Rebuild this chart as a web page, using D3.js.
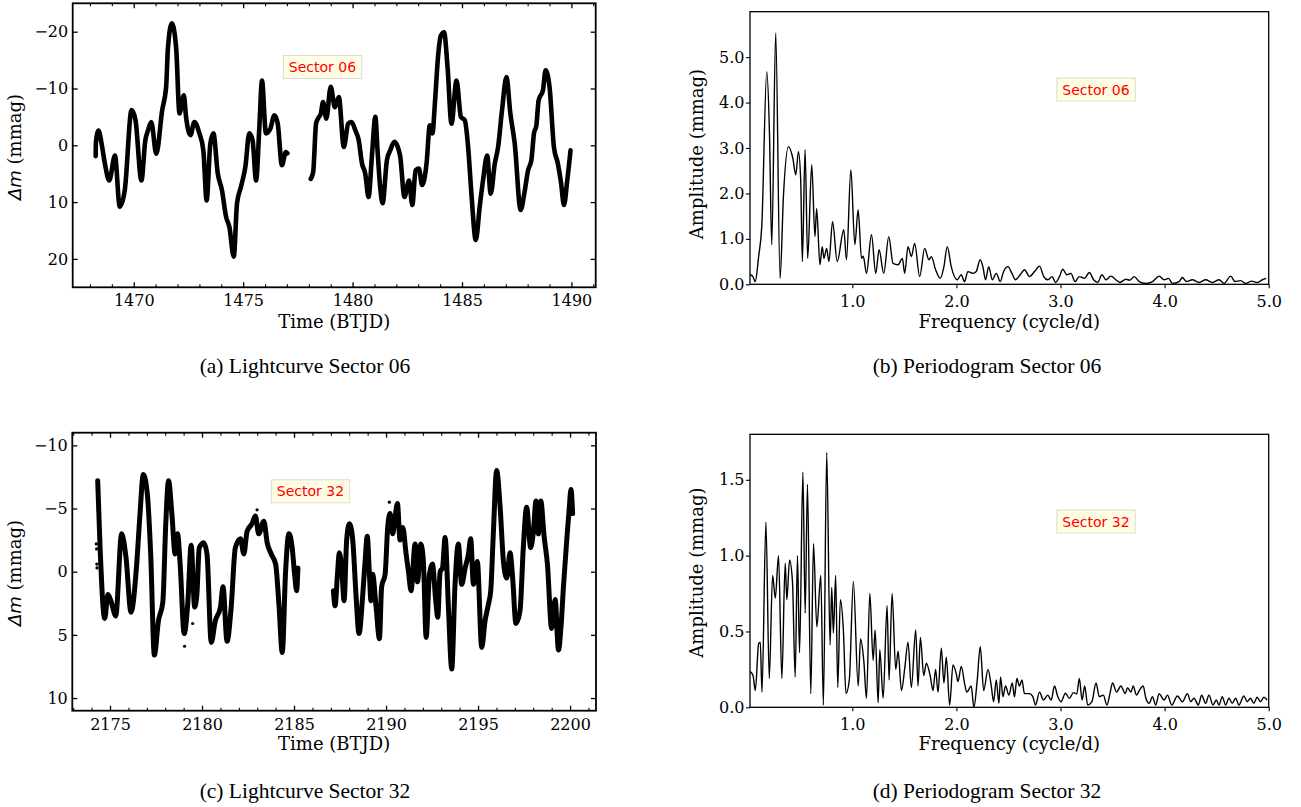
<!DOCTYPE html>
<html><head><meta charset="utf-8">
<script src="https://cdn.jsdelivr.net/npm/d3@7/dist/d3.min.js"></script>
<style>
html,body{margin:0;padding:0;background:#fff;}
svg{display:block;}
</style></head><body>
<svg id="fig" width="1301" height="807"></svg>
<script>
// ---------- Sector 06 light curve (BTJD, delta mag in mmag), two orbits ----------
const s06Orbit1 = [
  [1468.26,1.9],[1468.27,-0.5],[1468.39,-2.6],[1468.53,-0.3],[1468.68,3.2],[1468.88,6.2],
  [1469.14,1.8],[1469.36,10.8],[1469.59,7.9],[1469.9,-6.2],[1470.08,-4.4],[1470.35,6.2],
  [1470.53,-0.9],[1470.65,-2.6],[1470.8,-4.1],[1471.03,1.5],[1471.3,-6.2],[1471.48,-10.3],
  [1471.56,-17.0],[1471.74,-21.5],[1471.94,-17.0],[1472.09,-5.6],[1472.29,-8.8],[1472.39,-5.0],
  [1472.59,-1.8],[1472.77,-4.1],[1473.0,-2.1],[1473.18,0.9],[1473.33,9.7],[1473.5,-0.3],
  [1473.64,-2.1],[1473.84,5.0],[1474.03,7.9],[1474.22,12.6],[1474.37,14.4],[1474.57,19.6],
  [1474.72,10.2],[1474.9,7.3],[1475.1,3.8],[1475.28,-2.1],[1475.43,-0.9],[1475.59,6.2],
  [1475.74,-3.2],[1475.86,-11.4],[1476.04,-2.1],[1476.24,-2.9],[1476.43,-5.3],[1476.58,-3.8],
  [1476.77,3.5],[1476.95,1.2],[1477.02,1.4]
];
const s06Orbit2 = [
  [1478.09,5.9],[1478.2,4.7],[1478.33,-3.8],[1478.42,-4.7],[1478.55,-5.6],[1478.65,-7.6],
  [1478.8,-4.7],[1479.0,-10.3],[1479.19,-6.7],[1479.37,-8.5],[1479.6,0.3],[1479.8,-3.8],
  [1479.95,-4.1],[1480.13,-2.6],[1480.28,-0.9],[1480.43,3.2],[1480.58,5.0],[1480.73,9.1],
  [1480.89,1.5],[1481.04,-5.0],[1481.14,0.9],[1481.26,7.3],[1481.37,10.2],[1481.57,2.6],
  [1481.72,0.9],[1481.91,-0.6],[1482.17,1.8],[1482.37,9.1],[1482.58,6.2],[1482.73,10.5],
  [1482.88,4.4],[1483.03,4.1],[1483.18,7.0],[1483.38,3.2],[1483.53,-3.5],[1483.65,-2.1],
  [1483.76,-7.3],[1483.91,-15.8],[1484.03,-19.3],[1484.18,-19.9],[1484.34,-13.8],[1484.52,-3.8],
  [1484.75,-11.4],[1484.95,-5.0],[1485.13,-4.4],[1485.28,0.3],[1485.43,8.5],[1485.63,16.7],
  [1485.81,10.8],[1485.96,6.2],[1486.15,1.8],[1486.31,8.5],[1486.5,3.2],[1486.65,0.3],
  [1486.83,-6.2],[1487.03,-12.0],[1487.21,-5.6],[1487.41,-0.3],[1487.68,11.4],[1487.86,8.2],
  [1488.02,4.4],[1488.17,2.6],[1488.29,-2.1],[1488.4,-3.5],[1488.5,-7.9],[1488.7,-9.7],
  [1488.82,-13.2],[1489.0,-10.3],[1489.2,0.3],[1489.38,3.2],[1489.53,6.7],[1489.66,10.5],
  [1489.81,6.2],[1489.96,0.9]
];

// ---------- Sector 32 light curve, two orbits plus isolated points ----------
const s32Orbit1 = [
  [2174.33,-7.2],[2174.46,-1.9],[2174.71,3.7],[2174.89,1.8],[2175.07,2.4],[2175.31,3.5],
  [2175.63,-3.0],[2175.87,-1.1],[2176.14,3.2],[2176.45,-0.6],[2176.63,-4.6],[2176.81,-7.7],
  [2177.03,-6.1],[2177.21,-1.4],[2177.41,6.6],[2177.63,3.9],[2177.87,2.4],[2178.03,-3.8],
  [2178.18,-7.2],[2178.36,-4.6],[2178.54,-1.4],[2178.67,-3.0],[2178.81,-0.6],[2179.03,4.9],
  [2179.23,2.4],[2179.41,-2.1],[2179.6,2.8],[2179.72,1.8],[2179.85,-1.9],[2180.09,-2.3],
  [2180.27,-1.4],[2180.5,5.6],[2180.72,3.9],[2181.0,2.8],[2181.14,1.2],[2181.36,5.5],
  [2181.58,2.9],[2181.81,-1.9],[2182.09,-2.6],[2182.27,-1.4],[2182.45,-3.2],[2182.72,-3.8],
  [2182.9,-4.4],[2183.08,-3.0],[2183.36,-4.0],[2183.54,-2.3],[2183.76,-1.4],[2184.0,-0.6],
  [2184.18,2.6],[2184.36,6.4],[2184.54,0.0],[2184.72,-3.0],[2184.9,-1.9],[2185.03,0.2],
  [2185.14,1.5],[2185.21,-0.3]
];
const s32Orbit2 = [
  [2187.14,1.5],[2187.23,2.7],[2187.36,0.2],[2187.46,-1.5],[2187.59,-0.3],[2187.72,2.3],
  [2187.86,-2.5],[2188.01,-3.8],[2188.19,-2.5],[2188.37,1.9],[2188.53,4.9],[2188.73,1.9],
  [2188.86,-0.8],[2188.98,-2.8],[2189.09,0.0],[2189.18,2.3],[2189.27,0.2],[2189.46,2.8],
  [2189.64,5.3],[2189.76,1.2],[2189.95,0.2],[2190.09,-3.5],[2190.22,-4.6],[2190.36,-3.0],
  [2190.49,-4.3],[2190.62,-5.4],[2190.76,-2.5],[2190.91,-3.5],[2191.09,-1.4],[2191.22,0.0],
  [2191.36,1.5],[2191.58,-2.2],[2191.71,0.8],[2191.89,-2.2],[2192.03,-0.8],[2192.18,5.2],
  [2192.36,0.2],[2192.52,-0.6],[2192.7,2.3],[2192.81,3.6],[2192.94,0.0],[2193.07,-0.3],
  [2193.21,-2.7],[2193.39,2.8],[2193.57,7.7],[2193.75,1.0],[2193.93,-2.2],[2194.11,1.0],
  [2194.3,-0.3],[2194.48,-1.4],[2194.6,-2.6],[2194.75,1.0],[2194.96,-0.8],[2195.2,6.0],
  [2195.38,3.9],[2195.56,2.6],[2195.69,1.5],[2195.83,-3.0],[2196.01,-8.0],[2196.2,-5.1],
  [2196.38,-0.8],[2196.56,0.5],[2196.74,-1.5],[2196.88,0.5],[2197.06,4.1],[2197.28,3.1],
  [2197.46,-1.9],[2197.64,-5.1],[2197.86,-1.9],[2198.01,-3.2],[2198.15,-5.6],[2198.28,-3.0],
  [2198.41,-5.6],[2198.59,-2.8],[2198.77,-0.6],[2199.0,4.5],[2199.19,2.2],[2199.37,6.2],
  [2199.51,4.3],[2199.64,1.2],[2199.82,-2.5],[2199.96,-5.1],[2200.05,-6.5],[2200.14,-4.6]
];
const s32Stray = [
  [2174.25,-2.2],[2174.27,-1.8],[2174.28,-0.6],[2174.29,-0.3],
  [2179.05,5.9],[2179.49,4.1],[2182.99,-4.9],[2190.18,-5.5]
];

// ---------- Amplitude spectra (frequency in cycle/d, amplitude in mmag) ----------
const s06Spectrum = [
  [0.02,0.21],[0.045,0.17],[0.067,0.06],[0.1,0.61],[0.13,1.27],[0.178,4.68],[0.204,3.33],
  [0.226,0.87],[0.264,5.53],[0.306,0.13],[0.338,1.93],[0.386,3.03],[0.428,2.78],[0.457,2.41],
  [0.482,2.92],[0.504,2.3],[0.52,0.5],[0.546,2.96],[0.571,0.57],[0.61,2.63],[0.641,1.05],
  [0.657,1.67],[0.689,0.43],[0.711,0.83],[0.727,0.57],[0.753,0.79],[0.775,0.5],[0.81,1.38],
  [0.855,0.5],[0.918,1.2],[0.944,0.54],[0.986,2.52],[1.024,0.87],[1.056,1.64],[1.088,0.57],
  [1.105,0.62],[1.136,0.24],[1.184,1.09],[1.225,0.24],[1.257,0.76],[1.302,0.24],[1.35,1.05],
  [1.391,0.46],[1.439,0.43],[1.481,0.57],[1.503,0.24],[1.535,0.83],[1.567,0.61],[1.599,0.9],
  [1.647,0.17],[1.695,0.79],[1.736,0.54],[1.759,0.61],[1.8,0.32],[1.845,0.13],[1.88,0.39],
  [1.912,0.83],[1.95,0.39],[2.008,0.1],[2.046,0.21],[2.078,0.06],[2.11,0.28],[2.158,0.24],
  [2.19,0.28],[2.228,0.54],[2.254,0.39],[2.28,0.1],[2.31,0.39],[2.345,0.1],[2.383,0.24],
  [2.421,0.06],[2.453,0.28],[2.495,0.39],[2.533,0.24],[2.568,0.1],[2.613,0.21],[2.654,0.32],
  [2.702,0.17],[2.75,0.28],[2.798,0.4],[2.839,0.17],[2.878,0.1],[2.92,0.17],[2.952,0.04],
  [2.99,0.17],[3.022,0.33],[3.06,0.21],[3.1,0.24],[3.14,0.06],[3.18,0.17],[3.23,0.13],
  [3.277,0.26],[3.318,0.1],[3.357,0.04],[3.398,0.21],[3.436,0.1],[3.484,0.18],[3.532,0.1],
  [3.57,0.04],[3.628,0.11],[3.665,0.09],[3.708,0.17],[3.756,0.06],[3.82,0.02],[3.884,0.06],
  [3.948,0.18],[3.995,0.1],[4.037,0.13],[4.075,0.02],[4.139,0.06],[4.171,0.15],[4.21,0.06],
  [4.267,0.1],[4.331,0.04],[4.395,0.1],[4.459,0.04],[4.523,0.1],[4.571,0.02],[4.635,0.18],
  [4.676,0.06],[4.731,0.08],[4.779,0.02],[4.836,0.07],[4.891,0.04],[4.939,0.1],[4.977,0.13]
];
const s32Spectrum = [
  [0.02,0.236],[0.046,0.21],[0.068,0.11],[0.1,0.42],[0.116,0.43],[0.132,0.1],[0.17,1.22],
  [0.202,0.19],[0.234,0.87],[0.26,0.72],[0.291,1.0],[0.323,0.19],[0.355,0.95],[0.371,0.71],
  [0.397,0.97],[0.425,0.83],[0.451,0.2],[0.473,1.0],[0.493,0.36],[0.525,1.55],[0.547,0.62],
  [0.569,1.47],[0.601,0.09],[0.627,1.08],[0.659,0.53],[0.697,0.87],[0.722,0.015],[0.754,1.68],
  [0.786,0.41],[0.802,0.79],[0.818,0.49],[0.84,0.87],[0.86,0.13],[0.885,0.71],[0.914,0.51],
  [0.939,0.09],[0.971,0.18],[1.01,0.83],[1.056,0.14],[1.079,0.45],[1.111,0.3],[1.136,0.06],
  [1.168,0.75],[1.2,0.31],[1.219,0.51],[1.248,0.03],[1.264,0.38],[1.296,0.06],[1.334,0.67],
  [1.353,0.18],[1.382,0.75],[1.417,0.25],[1.44,0.37],[1.472,0.11],[1.504,0.26],[1.535,0.43],
  [1.567,0.13],[1.609,0.51],[1.631,0.14],[1.654,0.46],[1.686,0.21],[1.711,0.29],[1.75,0.2],
  [1.775,0.11],[1.8,0.25],[1.823,0.1],[1.855,0.39],[1.88,0.16],[1.903,0.33],[1.935,0.015],
  [1.967,0.28],[1.999,0.22],[2.015,0.17],[2.047,0.27],[2.078,0.16],[2.1,0.1],[2.142,0.14],
  [2.168,0.0],[2.2,0.18],[2.229,0.4],[2.262,0.11],[2.303,0.25],[2.335,0.14],[2.357,0.037],
  [2.383,0.18],[2.408,0.026],[2.424,0.2],[2.447,0.07],[2.472,0.14],[2.504,0.08],[2.536,0.16],
  [2.558,0.07],[2.581,0.19],[2.606,0.14],[2.629,0.18],[2.654,0.09],[2.702,0.09],[2.734,0.07],
  [2.76,0.015],[2.798,0.1],[2.836,0.048],[2.878,0.08],[2.91,0.048],[2.942,0.14],[2.974,0.07],
  [3.005,0.037],[3.047,0.093],[3.085,0.059],[3.124,0.097],[3.156,0.088],[3.181,0.19],[3.207,0.048],
  [3.232,0.14],[3.261,0.015],[3.302,0.037],[3.341,0.16],[3.373,0.07],[3.411,0.08],[3.446,0.015],
  [3.475,0.09],[3.5,0.16],[3.539,0.1],[3.58,0.14],[3.622,0.09],[3.644,0.13],[3.676,0.1],
  [3.698,0.14],[3.73,0.08],[3.756,0.11],[3.794,0.14],[3.82,0.06],[3.852,0.026],[3.883,0.07],
  [3.915,0.015],[3.947,0.09],[3.995,0.048],[4.027,0.08],[4.069,0.015],[4.123,0.075],[4.171,0.037],
  [4.219,0.09],[4.251,0.037],[4.283,0.06],[4.324,0.015],[4.356,0.08],[4.394,0.026],[4.426,0.08],
  [4.465,0.015],[4.497,0.048],[4.522,0.015],[4.554,0.07],[4.586,0.015],[4.618,0.06],[4.65,0.026],
  [4.682,0.06],[4.714,0.015],[4.761,0.075],[4.793,0.037],[4.825,0.06],[4.857,0.026],[4.889,0.066],
  [4.921,0.037],[4.953,0.066],[4.985,0.048]
];

// ---------- Tick values ----------
const s06TimeTicks = [1470, 1475, 1480, 1485, 1490];
const s06TimeMinor = [1468,1469,1471,1472,1473,1474,1476,1477,1478,1479,1481,1482,1483,1484,1486,1487,1488,1489,1491];
const s06MagTicks = [-20, -10, 0, 10, 20];
const s32TimeTicks = [2175, 2180, 2185, 2190, 2195, 2200];
const s32TimeMinor = [2173,2174,2176,2177,2178,2179,2181,2182,2183,2184,2186,2187,2188,2189,2191,2192,2193,2194,2196,2197,2198,2199,2201];
const s32MagTicks = [-10, -5, 0, 5, 10];
const freqTicks = [1, 2, 3, 4, 5];
const s06AmpTicks = [0, 1, 2, 3, 4, 5];
const s32AmpTicks = [0, 0.5, 1.0, 1.5];

const svg = d3.select("#fig");
const SERIF = "'DejaVu Serif', 'Liberation Serif', serif";
const SANS = "'DejaVu Sans', sans-serif";
const CAPTION = "'Liberation Serif', 'Times New Roman', serif";

function styleAxis(g, sw) {
  g.select(".domain").remove();
  g.selectAll(".tick line").attr("stroke", "#000").attr("stroke-width", sw);
  g.selectAll(".tick text").attr("fill", "#000").style("font-family", SERIF).style("font-size", "16px");
}

function sectorTag(cx, cy, label) {
  const g = svg.append("g");
  const t = g.append("text").attr("x", cx).attr("y", cy).attr("dy", "0.36em")
    .attr("text-anchor", "middle").attr("fill", "#ff0000")
    .style("font-family", SANS).style("font-size", "14px").text(label);
  const bb = t.node().getBBox();
  g.insert("rect", "text").attr("x", bb.x - 5.5).attr("y", cy - 11.5)
    .attr("width", bb.width + 11).attr("height", 23)
    .attr("fill", "#fffde3").attr("stroke", "#dcdcd4").attr("stroke-width", 1);
}

function caption(cx, y, label) {
  svg.append("text").attr("x", cx).attr("y", y).attr("text-anchor", "middle")
    .style("font-family", CAPTION).style("font-size", "21.5px").attr("fill", "#000").text(label);
}

function drawLightcurve(p) {
  const x = d3.scaleLinear().domain(p.xDomain).range([p.l, p.r]);
  const y = d3.scaleLinear().domain(p.yDomain).range([p.t, p.b]);
  const g = svg.append("g");
  const line = d3.line().curve(d3.curveMonotoneX).x(d => x(d[0])).y(d => y(d[1]));
  g.selectAll("path.orbit").data(p.orbits).join("path").attr("class", "orbit")
    .attr("d", line).attr("fill", "none").attr("stroke", "#000")
    .attr("stroke-width", p.sw).attr("stroke-linejoin", "round").attr("stroke-linecap", "round");
  g.selectAll("circle.stray").data(p.stray || []).join("circle").attr("class", "stray")
    .attr("cx", d => x(d[0])).attr("cy", d => y(d[1])).attr("r", 1.6).attr("fill", "#000");

  const fmt = d3.format("d");
  g.append("g").attr("transform", `translate(0,${p.b})`)
    .call(d3.axisBottom(x).tickValues(p.xTicks).tickSizeInner(-5).tickSizeOuter(0).tickPadding(7.5).tickFormat(fmt))
    .call(a => styleAxis(a, 1.3));
  g.append("g").attr("transform", `translate(0,${p.b})`)
    .call(d3.axisBottom(x).tickValues(p.xMinor).tickSizeInner(-3).tickSizeOuter(0).tickFormat(""))
    .call(a => styleAxis(a, 1.1));
  g.append("g").attr("transform", `translate(0,${p.t})`)
    .call(d3.axisTop(x).tickValues(p.xTicks).tickSizeInner(-5).tickSizeOuter(0).tickFormat(""))
    .call(a => styleAxis(a, 1.3));
  g.append("g").attr("transform", `translate(0,${p.t})`)
    .call(d3.axisTop(x).tickValues(p.xMinor).tickSizeInner(-3).tickSizeOuter(0).tickFormat(""))
    .call(a => styleAxis(a, 1.1));
  g.append("g").attr("transform", `translate(${p.l},0)`)
    .call(d3.axisLeft(y).tickValues(p.yTicks).tickSizeInner(-5).tickSizeOuter(0).tickPadding(4.5).tickFormat(fmt))
    .call(a => styleAxis(a, 1.3));
  g.append("g").attr("transform", `translate(${p.r},0)`)
    .call(d3.axisRight(y).tickValues(p.yTicks).tickSizeInner(-5).tickSizeOuter(0).tickFormat(""))
    .call(a => styleAxis(a, 1.3));

  g.append("rect").attr("x", p.l).attr("y", p.t).attr("width", p.r - p.l).attr("height", p.b - p.t)
    .attr("fill", "none").attr("stroke", "#000").attr("stroke-width", 1.8);

  g.append("text").attr("x", (p.l + p.r) / 2).attr("y", p.xLabelY).attr("text-anchor", "middle")
    .style("font-family", SERIF).style("font-size", "18px").text("Time (BTJD)");
  const yl = g.append("text").attr("transform", `translate(21,${p.yLabelY}) rotate(-90)`)
    .attr("text-anchor", "middle").style("font-family", SERIF).style("font-size", "18px");
  yl.append("tspan").style("font-family", SANS).style("font-style", "italic").text("Δm");
  yl.append("tspan").text(" (mmag)");
}

function drawSpectrum(p) {
  const x = d3.scaleLinear().domain([0.017, 5.0]).range([p.l, p.r]);
  const y = d3.scaleLinear().domain(p.yDomain).range([p.b, p.t]);
  const g = svg.append("g");
  const clipId = "clip" + p.id;
  svg.append("clipPath").attr("id", clipId).append("rect")
    .attr("x", p.l).attr("y", p.t).attr("width", p.r - p.l).attr("height", p.b - p.t);
  g.append("path").datum(p.data).attr("clip-path", `url(#${clipId})`)
    .attr("d", d3.line().curve(d3.curveMonotoneX).x(d => x(d[0])).y(d => y(d[1])))
    .attr("fill", "none").attr("stroke", "#000").attr("stroke-width", 1.4).attr("stroke-linejoin", "round");

  const fmt = d3.format(".1f");
  g.append("g").attr("transform", `translate(0,${p.b})`)
    .call(d3.axisBottom(x).tickValues(freqTicks).tickSizeInner(4).tickSizeOuter(0).tickPadding(7.3).tickFormat(fmt))
    .call(a => styleAxis(a, 1.1));
  g.append("g").attr("transform", `translate(${p.l},0)`)
    .call(d3.axisLeft(y).tickValues(p.yTicks).tickSizeInner(4).tickSizeOuter(0).tickPadding(1.5).tickFormat(fmt))
    .call(a => styleAxis(a, 1.1));
  g.append("rect").attr("x", p.l).attr("y", p.t).attr("width", p.r - p.l).attr("height", p.b - p.t)
    .attr("fill", "none").attr("stroke", "#000").attr("stroke-width", 1.3);

  g.append("text").attr("x", (p.l + p.r) / 2).attr("y", p.xLabelY).attr("text-anchor", "middle")
    .style("font-family", SERIF).style("font-size", "18px").text("Frequency (cycle/d)");
  g.append("text").attr("transform", `translate(702.5,${p.yLabelY}) rotate(-90)`)
    .attr("text-anchor", "middle").style("font-family", SERIF).style("font-size", "18px")
    .text("Amplitude (mmag)");
}

drawLightcurve({
  l: 72.7, r: 595.7, t: 3.3, b: 287.3,
  xDomain: [1467.21, 1491.11], yDomain: [-25, 25],
  xTicks: s06TimeTicks, xMinor: s06TimeMinor, yTicks: s06MagTicks,
  orbits: [s06Orbit1, s06Orbit2], sw: 4.6,
  xLabelY: 327.5, yLabelY: 147
});
drawLightcurve({
  l: 72.3, r: 596, t: 432.7, b: 710.7,
  xDomain: [2172.95, 2201.41], yDomain: [-11, 11],
  xTicks: s32TimeTicks, xMinor: s32TimeMinor, yTicks: s32MagTicks,
  orbits: [s32Orbit1, s32Orbit2], stray: s32Stray, sw: 5,
  xLabelY: 750, yLabelY: 573
});
drawSpectrum({
  id: "b", l: 750, r: 1268.7, t: 11.7, b: 284.3, yDomain: [0, 6.0],
  data: s06Spectrum, yTicks: s06AmpTicks, xLabelY: 327.5, yLabelY: 154
});
drawSpectrum({
  id: "d", l: 750, r: 1268.7, t: 434.3, b: 707.3, yDomain: [0, 1.8],
  data: s32Spectrum, yTicks: s32AmpTicks, xLabelY: 750, yLabelY: 572.5
});

sectorTag(322.5, 67, "Sector 06");
sectorTag(1096, 89.5, "Sector 06");
sectorTag(310.5, 491.3, "Sector 32");
sectorTag(1096, 521.5, "Sector 32");

caption(305, 373, "(a) Lightcurve Sector 06");
caption(987, 373, "(b) Periodogram Sector 06");
caption(305, 798, "(c) Lightcurve Sector 32");
caption(987, 798, "(d) Periodogram Sector 32");
</script></body></html>
